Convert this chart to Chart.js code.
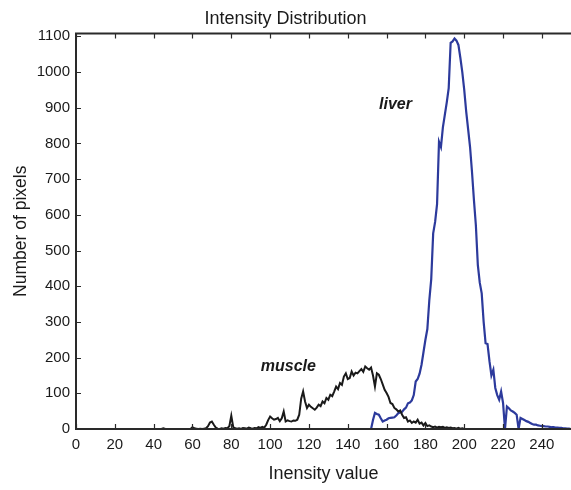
<!DOCTYPE html>
<html>
<head>
<meta charset="utf-8">
<script src="https://cdn.jsdelivr.net/npm/chart.js@4.4.0/dist/chart.umd.min.js"></script>
<style>
  html, body { margin: 0; padding: 0; background: #fff; }
  #wrap { width: 571px; height: 490px; }
</style>
</head>
<body>
<div id="wrap"><canvas id="chartHist"></canvas></div>
<script>
// intensity bins and pixel counts
var muscleX = [0, 44, 45, 46, 59, 60, 61, 62, 63, 64, 65, 66, 67, 68, 69, 70, 71, 72, 73, 74, 75, 76, 77, 78, 79,
     80, 81, 82, 83, 84, 85, 86, 87, 88, 89, 90, 91, 92, 93, 94, 95, 96, 97, 98, 99,
     100, 101, 102, 103, 104, 105, 106, 107, 108, 109, 110, 111, 112, 113, 114, 115, 116, 117, 118, 119,
     120, 121, 122, 123, 124, 125, 126, 127, 128, 129, 130, 131, 132, 133, 134, 135, 136, 137, 138, 139,
     140, 141, 142, 143, 144, 145, 146, 147, 148, 149, 150, 151, 152, 153, 154, 155, 156, 157, 158, 159,
     160, 161, 162, 163, 164, 165, 166, 167, 168, 169, 170, 171, 172, 173, 174, 175, 176, 177, 178, 179,
     180, 181, 182, 183, 184, 185, 186, 187, 188, 189, 190, 191, 192, 193, 194, 195, 196, 197, 198, 199,
     200, 255];
var muscleY = [0, 0, 2, 0, 0, 5, 2, 1, 0, 1, 0, 1, 2, 8, 18, 21, 12, 4, 1, 0, 2, 1, 3, 2, 8,
     37, 5, 2, 1, 2, 0, 3, 2, 1, 4, 2, 1, 3, 2, 5, 3, 6, 4, 12, 25,
     35, 30, 26, 28, 31, 22, 30, 49, 21, 24, 22, 21, 24, 23, 26, 40, 85, 105, 77, 59,
     68, 62, 58, 54, 60, 68, 64, 77, 72, 87, 82, 96, 92, 105, 119, 112, 129, 124, 147, 156,
     140, 143, 161, 150, 158, 156, 162, 168, 160, 175, 170, 166, 172, 150, 119, 156, 152, 140, 125, 110,
     101, 90, 73, 70, 59, 55, 49, 52, 40, 31, 33, 21, 24, 17, 21, 18, 26, 15, 18, 10,
     17, 8, 10, 7, 5, 7, 4, 6, 5, 6, 3, 5, 3, 4, 2, 3, 1, 3, 1, 2,
     0, 0];

var liverX = [0, 152, 153, 154, 155, 156, 157, 158, 159,
     160, 161, 162, 163, 164, 165, 166, 167, 168, 169, 170, 171, 172, 173, 174, 175, 176, 177, 178, 179,
     180, 181, 182, 183, 184, 185, 186, 187, 188, 189, 190, 191, 192, 193, 194, 195, 196, 197, 198, 199,
     200, 201, 202, 203, 204, 205, 206, 207, 208, 209, 210, 211, 212, 213, 214, 215, 216, 217, 218, 219,
     220, 221, 222, 223, 224, 225, 226, 227, 228, 229, 230, 231, 232, 233, 234, 235, 236, 237, 238, 239,
     240, 241, 242, 243, 244, 245, 246, 247, 248, 249, 250, 251, 252, 253, 254, 255];
var liverY = [0, 0, 25, 45, 42, 40, 30, 21, 24,
     26, 30, 31, 32, 33, 38, 44, 46, 48, 55, 60, 72, 74, 80, 95, 133, 140, 155, 180, 215,
     250, 280, 360, 420, 548, 580, 630, 805, 790, 845, 880, 915, 955, 1082, 1086, 1094, 1088, 1076, 1040, 1000,
     950, 890, 840, 790, 720, 641, 570, 460, 410, 380, 300, 240, 238, 190, 150, 166, 115, 95, 82, 105,
     73, 0, 63, 58, 52, 49, 45, 40, 0, 31, 28, 25, 22, 20, 17, 14, 12, 12, 10, 9,
     8, 8, 7, 7, 6, 5, 5, 4, 4, 3, 3, 2, 2, 1, 1, 0];

var xTicks = [0, 20, 40, 60, 80, 100, 120, 140, 160, 180, 200, 220, 240];
var yTicks = [0, 100, 200, 300, 400, 500, 600, 700, 800, 900, 1000, 1100];

var labelNotes = [
     { text: 'liver', x: 164.6, y: 908 },
     { text: 'muscle', x: 109.4, y: 175 }
];

var toPoints = function (xs, ys) {
     var pts = [];
     for (var i = 0; i < xs.length; i++) pts.push({ x: xs[i], y: ys[i] });
     return pts;
};

var AXIS_COLOR = '#2a2a2a';
var FONT = 'Liberation Sans, Arial, Helvetica, sans-serif';

// MATLAB style box with inward ticks plus the curve labels
var boxPlugin = {
     id: 'boxTicks',
     afterDatasetsDraw: function (chart) {
          var ctx = chart.ctx;
          var a = chart.chartArea;
          var sx = chart.scales.x, sy = chart.scales.y;
          var len = 5;
          ctx.save();
          ctx.strokeStyle = AXIS_COLOR;
          ctx.lineWidth = 1.2;
          ctx.beginPath();
          xTicks.forEach(function (v) {
               var px = Math.round(sx.getPixelForValue(v)) + 0.5;
               ctx.moveTo(px, a.bottom); ctx.lineTo(px, a.bottom - len);
               ctx.moveTo(px, a.top); ctx.lineTo(px, a.top + len);
          });
          yTicks.forEach(function (v) {
               var py = Math.round(sy.getPixelForValue(v)) + 0.5;
               ctx.moveTo(a.left, py); ctx.lineTo(a.left + len, py);
          });
          ctx.stroke();
          ctx.lineWidth = 2;
          ctx.strokeRect(a.left, a.top, a.right - a.left + 4, a.bottom - a.top);

          ctx.fillStyle = '#1a1a1a';
          ctx.font = 'italic bold 16px ' + FONT;
          ctx.textAlign = 'center';
          ctx.textBaseline = 'middle';
          labelNotes.forEach(function (n) {
               ctx.fillText(n.text, sx.getPixelForValue(n.x), sy.getPixelForValue(n.y));
          });
          ctx.restore();
     }
};

var config = {
     type: 'line',
     data: {
          datasets: [{
               label: 'muscle',
               data: toPoints(muscleX, muscleY),
               borderColor: '#1a1a1a',
               borderWidth: 2,
               pointRadius: 0,
               tension: 0,
               fill: false
          }, {
               label: 'liver',
               data: toPoints(liverX, liverY),
               borderColor: '#2c3a9c',
               borderWidth: 2.2,
               pointRadius: 0,
               tension: 0,
               fill: false
          }]
     },
     options: {
          responsive: true,
          maintainAspectRatio: false,
          animation: false,
          layout: { padding: { left: 0, right: 0, top: 0, bottom: 0 } },
          plugins: {
               legend: { display: false },
               tooltip: { enabled: false },
               title: {
                    display: true,
                    text: 'Intensity Distribution',
                    color: '#1a1a1a',
                    font: { family: FONT, size: 18, weight: 'normal' },
                    padding: { top: 8.5, bottom: 3.4 }
               }
          },
          scales: {
               x: {
                    type: 'linear',
                    min: 0,
                    max: 255,
                    grid: { display: false, drawTicks: false },
                    border: { display: false },
                    afterBuildTicks: function (scale) {
                         scale.ticks = xTicks.map(function (v) { return { value: v }; });
                    },
                    afterFit: function (scale) { scale.height = 61; },
                    ticks: {
                         color: '#1a1a1a',
                         font: { family: FONT, size: 15 },
                         padding: 7,
                         maxRotation: 0,
                         autoSkip: false,
                         callback: function (v) { return String(v); }
                    },
                    title: {
                         display: true,
                         text: 'Inensity value',
                         color: '#1a1a1a',
                         font: { family: FONT, size: 18 },
                         padding: { top: 0, bottom: 5 }
                    }
               },
               y: {
                    type: 'linear',
                    min: 0,
                    max: 1108,
                    grid: { display: false, drawTicks: false },
                    border: { display: false },
                    afterBuildTicks: function (scale) {
                         scale.ticks = yTicks.map(function (v) { return { value: v }; });
                    },
                    afterFit: function (scale) { scale.width = 76; },
                    ticks: {
                         color: '#1a1a1a',
                         font: { family: FONT, size: 15 },
                         padding: 6,
                         autoSkip: false,
                         callback: function (v) { return String(v); }
                    },
                    title: {
                         display: true,
                         text: 'Number of pixels',
                         color: '#1a1a1a',
                         font: { family: FONT, size: 17.5 },
                         padding: { top: 10.5, bottom: 0 }
                    }
               }
          }
     },
     plugins: [boxPlugin]
};

window.onload = function () {
     var ctx = document.getElementById('chartHist').getContext('2d');
     window.myHist = new Chart(ctx, config);
};
</script>
</body>
</html>
